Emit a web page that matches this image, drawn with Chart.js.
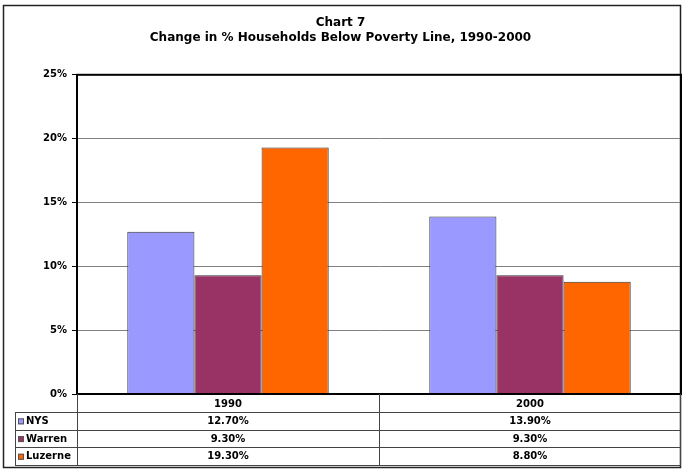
<!DOCTYPE html>
<html>
<head>
<meta charset="utf-8">
<script src="https://cdn.jsdelivr.net/npm/chart.js@4.4.1/dist/chart.umd.min.js"></script>
<style>
    html, body { margin: 0; padding: 0; background: #fff; }
    #wrap { width: 683px; height: 470px; position: relative; }
</style>
</head>
<body>
<div id="wrap"><canvas id="poverty-chart" width="683" height="470"></canvas></div>
<script>
const categories = ['1990', '2000'];
const seriesNames = ['NYS', 'Warren', 'Luzerne'];
const nysValues = [12.7, 13.9];
const warrenValues = [9.3, 9.3];
const luzerneValues = [19.3, 8.8];
const tableText = [
    ['12.70%', '13.90%'],
    ['9.30%', '9.30%'],
    ['19.30%', '8.80%']
];
const titleLines = ['Chart 7', 'Change in % Households Below Poverty Line, 1990-2000'];

const fontFamily = '"DejaVu Sans", Verdana, sans-serif';
const colors = ['#9999ff', '#993366', '#ff6600'];

// frame round the whole picture and the plot area
const framePlugin = {
    id: 'frame',
    beforeDraw(chart) {
        const ctx = chart.ctx;
        ctx.save();
        ctx.fillStyle = '#fff';
        ctx.fillRect(0, 0, chart.width, chart.height);
        ctx.strokeStyle = '#222';
        ctx.lineWidth = 1.5;
        ctx.strokeRect(3.5, 5.5, chart.width - 6, chart.height - 8);
        ctx.restore();
    },
    afterDatasetsDraw(chart) {
        const a = chart.chartArea;
        const ctx = chart.ctx;
        ctx.save();
        ctx.strokeStyle = '#000';
        ctx.lineWidth = 2;
        ctx.strokeRect(a.left, a.top, a.right - a.left, a.bottom - a.top);
        ctx.restore();
    }
};

// data table under the plot, aligned with the category scale
const tablePlugin = {
    id: 'dataTable',
    afterDraw(chart) {
        const ctx = chart.ctx;
        const a = chart.chartArea;
        const xs = chart.scales.x;
        const n = categories.length;
        const catW = (a.right - a.left) / n;
        const headH = 18;
        const rowH = 17.7;
        const nameLeft = 15;
        const top = a.bottom;
        const bottom = top + headH + rowH * seriesNames.length;

        ctx.save();
        ctx.strokeStyle = '#444';
        ctx.lineWidth = 1;

        // vertical lines
        const vline = (x, y0, y1) => {
            ctx.beginPath();
            ctx.moveTo(Math.round(x) + 0.5, y0);
            ctx.lineTo(Math.round(x) + 0.5, y1);
            ctx.stroke();
        };
        vline(nameLeft, top + headH, bottom);
        vline(a.left, top, bottom);
        for (let i = 1; i <= n; i++) vline(a.left + catW * i - (i === n ? 1 : 0), top, bottom);

        // horizontal lines
        for (let r = 0; r <= seriesNames.length; r++) {
            const y = Math.round(top + headH + rowH * r) + 0.5;
            ctx.beginPath();
            ctx.moveTo(nameLeft, y);
            ctx.lineTo(a.right, y);
            ctx.stroke();
        }

        ctx.fillStyle = '#000';
        ctx.textBaseline = 'middle';
        ctx.font = 'bold 10px ' + fontFamily;
        ctx.textAlign = 'center';
        categories.forEach((c, i) => {
            ctx.fillText(c, xs.getPixelForValue(i), top + headH / 2 + 1);
        });

        seriesNames.forEach((name, r) => {
            const yMid = top + headH + rowH * r + rowH / 2 + 0.5;
            ctx.fillStyle = colors[r];
            ctx.fillRect(nameLeft + 3, yMid - 3, 6, 6);
            ctx.strokeStyle = '#555';
            ctx.strokeRect(nameLeft + 3.5, yMid - 2.5, 5, 5);
            ctx.fillStyle = '#000';
            ctx.textAlign = 'left';
            ctx.fillText(name, nameLeft + 11, yMid);
            ctx.textAlign = 'center';
            tableText[r].forEach((t, i) => {
                ctx.fillText(t, xs.getPixelForValue(i), yMid);
            });
        });
        ctx.restore();
    }
};

new Chart(document.getElementById('poverty-chart'), {
    type: 'bar',
    data: {
        labels: categories,
        datasets: [
            { label: seriesNames[0], data: nysValues, backgroundColor: colors[0] },
            { label: seriesNames[1], data: warrenValues, backgroundColor: colors[1] },
            { label: seriesNames[2], data: luzerneValues, backgroundColor: colors[2] }
        ].map(d => Object.assign(d, { borderColor: '#333', borderWidth: 1 }))
    },
    options: {
        responsive: false,
        animation: false,
        devicePixelRatio: 1,
        layout: { padding: { left: 0, right: 2, top: 0, bottom: 76 } },
        datasets: {
            bar: { categoryPercentage: 0.667, barPercentage: 1 }
        },
        plugins: {
            legend: { display: false },
            tooltip: { enabled: false },
            title: {
                display: true,
                text: titleLines,
                color: '#000',
                font: { family: fontFamily, size: 12, weight: 'bold', lineHeight: 1.2 },
                padding: { top: 16, bottom: 30 }
            }
        },
        scales: {
            x: {
                display: false
            },
            y: {
                min: 0,
                max: 25,
                afterFit(scale) { scale.width = 77; },
                ticks: {
                    stepSize: 5,
                    padding: 5,
                    color: '#000',
                    font: { family: fontFamily, size: 10, weight: 'bold' },
                    callback: v => v + '%'
                },
                grid: { color: '#808080', tickColor: '#000', tickLength: 5 },
                border: { color: '#000', width: 2 }
            }
        }
    },
    plugins: [framePlugin, tablePlugin]
});
</script>
</body>
</html>
